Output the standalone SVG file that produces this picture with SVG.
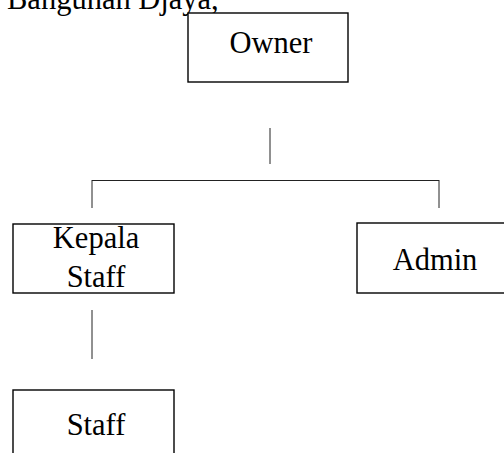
<svg xmlns="http://www.w3.org/2000/svg" width="504" height="453" viewBox="0 0 504 453">
<style>
.box{fill:#fff;stroke:#000;stroke-width:1.4}
.lbl{font-family:"Liberation Serif","Times New Roman",serif;font-size:30.5px;fill:#000;text-anchor:middle}
.conn line{stroke:#222;stroke-width:1}
</style>
<rect width="504" height="453" fill="#fff"/>
<text x="7" y="9" font-family="Liberation Serif, Times New Roman, serif" font-size="30.5" fill="#000">Bangunan Djaya,</text>
<g class="conn">
<line x1="270" y1="128" x2="270" y2="164"/>
<line x1="92" y1="180.5" x2="439" y2="180.5"/>
<line x1="92" y1="180" x2="92" y2="208"/>
<line x1="439" y1="180" x2="439" y2="208"/>
<line x1="92" y1="310" x2="92" y2="359"/>
</g>
<g id="owner">
<rect class="box" x="188" y="13" width="160" height="69"/>
<text class="lbl" x="271" y="53">Owner</text>
</g>
<g id="kepala-staff">
<rect class="box" x="13" y="224" width="161" height="69"/>
<text class="lbl" x="96" y="248">Kepala</text>
<text class="lbl" x="96" y="287">Staff</text>
</g>
<g id="admin">
<rect class="box" x="357" y="223" width="170" height="70"/>
<text class="lbl" x="435" y="270">Admin</text>
</g>
<g id="staff">
<rect class="box" x="13" y="390" width="161" height="80"/>
<text class="lbl" x="96" y="435">Staff</text>
</g>
</svg>
